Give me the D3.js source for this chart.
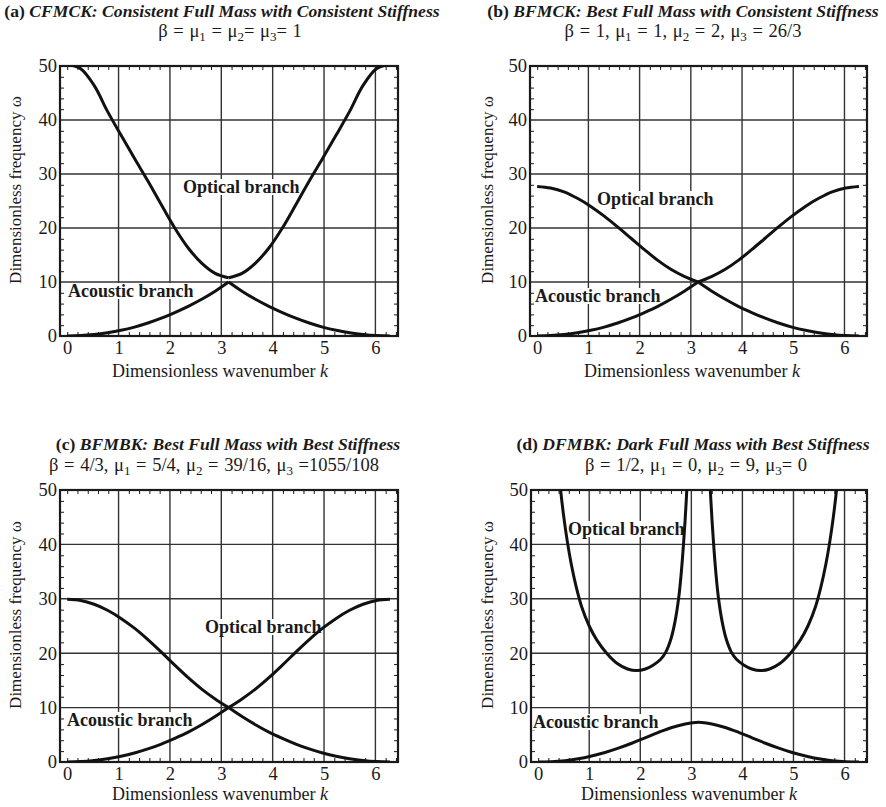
<!DOCTYPE html>
<html>
<head>
<meta charset="utf-8">
<script src="https://cdn.jsdelivr.net/npm/d3@7"></script>
<style>
  body { margin: 0; background: #fff; }
  svg { display: block; font-family: "Liberation Serif", "Times New Roman", serif; }
</style>
</head>
<body>
<script>
// wavenumber samples k (0 .. 2pi, step pi/12)
const kGrid = [0, 0.262, 0.524, 0.785, 1.047, 1.309, 1.571, 1.833, 2.094, 2.356, 2.618, 2.880, 3.142,
               3.403, 3.665, 3.927, 4.189, 4.451, 4.712, 4.974, 5.236, 5.498, 5.760, 6.021, 6.283];

// (a) CFMCK
const aOptical  = [50.3, 49.5, 46.4, 41.6, 37.2, 32.9, 28.7, 24.3, 20.0, 16.3, 13.5, 11.6, 10.8,
                   11.6, 13.5, 16.3, 20.0, 24.3, 28.7, 32.9, 37.2, 41.6, 46.4, 49.5, 50.3];
const aAcoustic = [0, 0.07, 0.27, 0.6, 1.05, 1.65, 2.4, 3.3, 4.35, 5.5, 6.8, 8.3, 10.0,
                   8.3, 6.8, 5.5, 4.35, 3.3, 2.4, 1.65, 1.05, 0.6, 0.27, 0.07, 0];
// (b) BFMCK
const bOptical  = [27.7, 27.4, 26.7, 25.5, 24.0, 22.2, 20.2, 18.1, 16.0, 14.0, 12.3, 11.0, 10.0,
                   11.0, 12.3, 14.0, 16.0, 18.1, 20.2, 22.2, 24.0, 25.5, 26.7, 27.4, 27.7];
const bAcoustic = [0, 0.07, 0.27, 0.6, 1.05, 1.65, 2.4, 3.3, 4.35, 5.5, 6.85, 8.35, 10.0,
                   8.35, 6.85, 5.5, 4.35, 3.3, 2.4, 1.65, 1.05, 0.6, 0.27, 0.07, 0];
// (c) BFMBK
const cOptical  = [29.9, 29.7, 29.0, 27.9, 26.4, 24.6, 22.5, 20.2, 17.8, 15.5, 13.4, 11.6, 10.0,
                   11.6, 13.4, 15.5, 17.8, 20.2, 22.5, 24.6, 26.4, 27.9, 29.0, 29.7, 29.9];
const cAcoustic = [0, 0.07, 0.27, 0.6, 1.05, 1.65, 2.4, 3.3, 4.35, 5.5, 6.85, 8.35, 10.0,
                   8.35, 6.85, 5.5, 4.35, 3.3, 2.4, 1.65, 1.05, 0.6, 0.27, 0.07, 0];
// (d) DFMBK
const dAcoustic = [0, 0.06, 0.25, 0.58, 1.1, 1.75, 2.55, 3.45, 4.45, 5.45, 6.35, 7.0, 7.3,
                   7.0, 6.35, 5.45, 4.45, 3.45, 2.55, 1.75, 1.1, 0.58, 0.25, 0.06, 0];
const dOptLeftK  = [0.42, 0.44, 0.50, 0.57, 0.65, 0.75, 0.85, 1.00, 1.15, 1.35, 1.55, 1.75, 1.93,
                    2.10, 2.25, 2.40, 2.50, 2.60, 2.68, 2.75, 2.80, 2.85, 2.90, 2.93];
const dOptLeft   = [52, 50, 45.2, 40.6, 36.3, 32.0, 28.6, 25.0, 22.4, 19.9, 18.1, 17.1, 16.8,
                    17.1, 17.8, 18.9, 20.2, 22.6, 25.8, 30.0, 34.5, 40.5, 48.0, 54];
const dOptRightK = [3.353, 3.383, 3.433, 3.483, 3.533, 3.603, 3.683, 3.783, 3.883, 4.033, 4.183, 4.353,
                    4.533, 4.733, 4.933, 5.133, 5.283, 5.433, 5.533, 5.633, 5.713, 5.783, 5.843, 5.863];
const dOptRight  = [54, 48.0, 40.5, 34.5, 30.0, 25.8, 22.6, 20.2, 18.9, 17.8, 17.1, 16.8,
                    17.1, 18.1, 19.9, 22.4, 25.0, 28.6, 32.0, 36.3, 40.6, 45.2, 50, 52];

const xTickLabels = [0, 1, 2, 3, 4, 5, 6];
const yTickLabels = [0, 10, 20, 30, 40, 50];
const xGrid = [1, 2, 3, 4, 5, 6];
const yGrid = [10, 20, 30, 40];

const zip = (ks, vs) => ks.map((k, i) => [k, vs[i]]);

const panels = [
  { tag: "(a) ", title: "CFMCK: Consistent Full Mass with Consistent Stiffness", tx: 222, ty: 17,
    sub: [["β = μ", 0], ["1", 1], [" = μ", 0], ["2", 1], ["= μ", 0], ["3", 1], ["= 1", 0]], sx: 230, sy: 37,
    box: [60, 66, 398, 336], yTitle: [15, 190], xTitle: [220, 377],
    curves: [zip(kGrid.slice(0, 13), aOptical.slice(0, 13)), zip(kGrid.slice(12), aOptical.slice(12)),
             zip(kGrid.slice(0, 13), aAcoustic.slice(0, 13)), zip(kGrid.slice(12), aAcoustic.slice(12))],
    labels: [["Optical branch", 183, 193], ["Acoustic branch", 68, 297]] },
  { tag: "(b) ", title: "BFMCK: Best Full Mass with Consistent Stiffness", tx: 683, ty: 17,
    sub: [["β = 1, μ", 0], ["1", 1], [" = 1, μ", 0], ["2", 1], [" = 2, μ", 0], ["3", 1], [" = 26/3", 0]], sx: 683, sy: 37,
    box: [530, 66, 867, 336], yTitle: [487, 190], xTitle: [692, 377],
    curves: [zip(kGrid.slice(0, 13), bOptical.slice(0, 13)), zip(kGrid.slice(12), bOptical.slice(12)),
             zip(kGrid.slice(0, 13), bAcoustic.slice(0, 13)), zip(kGrid.slice(12), bAcoustic.slice(12))],
    labels: [["Optical branch", 597, 205], ["Acoustic branch", 535, 302]] },
  { tag: "(c) ", title: "BFMBK: Best Full Mass with Best Stiffness", tx: 228, ty: 450,
    sub: [["β = 4/3, μ", 0], ["1", 1], [" = 5/4, μ", 0], ["2", 1], [" = 39/16, μ", 0], ["3", 1], [" =1055/108", 0]], sx: 214, sy: 471,
    box: [60, 490, 398, 762], yTitle: [15, 615], xTitle: [220, 800],
    curves: [zip(kGrid.slice(0, 13), cOptical.slice(0, 13)), zip(kGrid.slice(12), cOptical.slice(12)),
             zip(kGrid.slice(0, 13), cAcoustic.slice(0, 13)), zip(kGrid.slice(12), cAcoustic.slice(12))],
    labels: [["Optical branch", 205, 633], ["Acoustic branch", 67, 726]] },
  { tag: "(d) ", title: "DFMBK: Dark Full Mass with Best Stiffness", tx: 693, ty: 450,
    sub: [["β = 1/2, μ", 0], ["1", 1], [" = 0, μ", 0], ["2", 1], [" = 9, μ", 0], ["3", 1], ["= 0", 0]], sx: 696, sy: 471,
    box: [531, 490, 867, 762], yTitle: [487, 615], xTitle: [689, 800],
    curves: [zip(kGrid, dAcoustic), zip(dOptLeftK, dOptLeft), zip(dOptRightK, dOptRight)],
    labels: [["Optical branch", 568, 535], ["Acoustic branch", 533, 728]] }
];

const W = 886, H = 807;
const svg = d3.select("body").append("svg").attr("width", W).attr("height", H);
const ink = "#1a1a1a";

panels.forEach((p, i) => {
  const [x0, y0, x1, y1] = p.box;
  const x = d3.scaleLinear().domain([-0.14, 6.44]).range([x0, x1]);
  const y = d3.scaleLinear().domain([0, 50]).range([y1, y0]);
  const g = svg.append("g");

  // title
  const t = g.append("text").attr("x", p.tx).attr("y", p.ty).attr("text-anchor", "middle")
    .style("font-size", "17.6px").style("font-weight", "bold").attr("fill", ink);
  t.append("tspan").text(p.tag);
  t.append("tspan").style("font-style", "italic").text(p.title);

  const s = g.append("text").attr("x", p.sx).attr("y", p.sy).attr("text-anchor", "middle")
    .style("font-size", "18.5px").style("word-spacing", "1px").attr("fill", ink);
  p.sub.forEach(([str, isSub], j) => {
    const ts = s.append("tspan").text(str);
    if (isSub) ts.attr("dy", 4).style("font-size", "13px");
    else if (j > 0) ts.attr("dy", -4);
  });

  // grid
  g.append("g").selectAll("line").data(xGrid).join("line")
    .attr("x1", d => x(d)).attr("x2", d => x(d)).attr("y1", y0).attr("y2", y1)
    .attr("stroke", "#333").attr("stroke-width", 1.4);
  g.append("g").selectAll("line").data(yGrid).join("line")
    .attr("y1", d => y(d)).attr("y2", d => y(d)).attr("x1", x0).attr("x2", x1)
    .attr("stroke", "#333").attr("stroke-width", 1.4);

  // minor ticks on all four sides
  const xMinor = d3.range(0, 6.41, 0.2).filter(v => Math.abs(v - Math.round(v)) > 0.01 || Math.round(v) === 0);
  const yMinor = d3.range(0, 50.1, 2).filter(v => v % 10 !== 0);
  const tickStyle = sel => {
    sel.select(".domain").remove();
    sel.selectAll("line").attr("stroke", ink).attr("stroke-width", 1);
    sel.selectAll("text").remove();
  };
  g.append("g").attr("transform", `translate(0,${y1})`)
    .call(d3.axisBottom(x).tickValues(xMinor).tickSize(-4)).call(tickStyle);
  g.append("g").attr("transform", `translate(0,${y0})`)
    .call(d3.axisTop(x).tickValues(xMinor).tickSize(-4)).call(tickStyle);
  g.append("g").attr("transform", `translate(${x0},0)`)
    .call(d3.axisLeft(y).tickValues(yMinor).tickSize(-4)).call(tickStyle);
  g.append("g").attr("transform", `translate(${x1},0)`)
    .call(d3.axisRight(y).tickValues(yMinor).tickSize(-4)).call(tickStyle);

  // tick labels
  const xa = g.append("g").attr("transform", `translate(0,${y1})`)
    .call(d3.axisBottom(x).tickValues(xTickLabels).tickSize(0).tickPadding(5).tickFormat(d3.format("d")));
  const ya = g.append("g").attr("transform", `translate(${x0},0)`)
    .call(d3.axisLeft(y).tickValues(yTickLabels).tickSize(0).tickPadding(3).tickFormat(d3.format("d")));
  [xa, ya].forEach(a => {
    a.select(".domain").remove();
    a.selectAll("text").style("font-size", "18.5px").style("font-family", "Liberation Serif, serif").attr("fill", ink);
  });

  // axis titles
  g.append("text").attr("transform", `translate(${p.yTitle[0]},${p.yTitle[1]}) rotate(-90)`)
    .attr("text-anchor", "middle").attr("dy", "0.35em").style("font-size", "17px").attr("fill", ink)
    .text("Dimensionless frequency ω");
  const xt = g.append("text").attr("x", p.xTitle[0]).attr("y", p.xTitle[1]).attr("text-anchor", "middle")
    .style("font-size", "18px").attr("fill", ink);
  xt.append("tspan").text("Dimensionless wavenumber ");
  xt.append("tspan").style("font-style", "italic").text("k");

  // branch labels with white backing
  p.labels.forEach(([txt, lx, ly]) => {
    const lt = g.append("text").attr("x", lx).attr("y", ly).style("font-size", "18px")
      .style("font-weight", "bold").attr("fill", ink).text(txt);
    const bb = lt.node().getBBox();
    g.insert("rect", () => lt.node()).attr("x", bb.x - 1).attr("y", bb.y + 2)
      .attr("width", bb.width + 2).attr("height", bb.height - 4).attr("fill", "#fff");
  });

  // frame
  g.append("rect").attr("x", x0).attr("y", y0).attr("width", x1 - x0).attr("height", y1 - y0)
    .attr("fill", "none").attr("stroke", ink).attr("stroke-width", 2.2);

  // curves
  const clipId = "clip" + i;
  g.append("clipPath").attr("id", clipId).append("rect")
    .attr("x", x0).attr("y", y0).attr("width", x1 - x0).attr("height", y1 - y0);
  const line = d3.line().x(d => x(d[0])).y(d => y(d[1])).curve(d3.curveCatmullRom.alpha(0.5));
  g.append("g").attr("clip-path", `url(#${clipId})`).selectAll("path").data(p.curves).join("path")
    .attr("d", line).attr("fill", "none").attr("stroke", "#111").attr("stroke-width", 3)
    .attr("stroke-linejoin", "round");
});
</script>
</body>
</html>
